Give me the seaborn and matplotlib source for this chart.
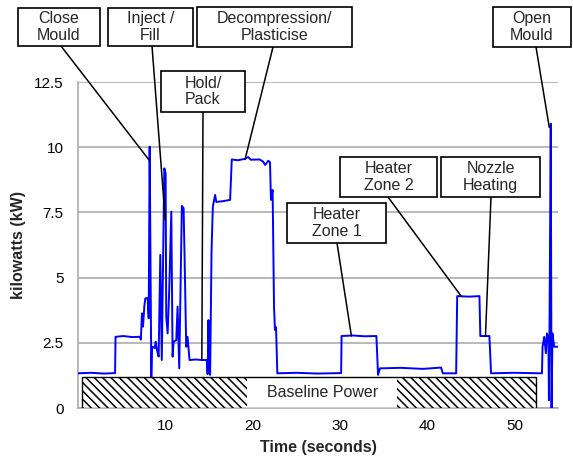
import matplotlib
matplotlib.use('Agg')
import matplotlib.pyplot as plt
from matplotlib.patches import Rectangle
import seaborn as sns
import pandas as pd

# power trace
time_s = [0.0, 1.5, 3.0, 4.25, 4.3, 5.2, 6.2, 7.1, 7.2,
          7.33, 7.45, 7.6, 7.71, 7.98, 8.1, 8.21, 8.3, 8.4, 8.48, 8.8, 8.9, 9.05,
          9.24, 9.43, 9.6, 9.89, 10.04, 10.11, 10.27, 10.45, 10.69, 10.84, 10.95,
          11.26, 11.41, 11.6, 11.9, 12.1, 12.2, 12.4, 12.55, 12.78,
          13.5, 14.2, 14.76, 14.85, 14.95, 15.05, 15.14, 15.3, 15.45, 15.71, 15.85,
          16.6, 17.43, 17.62, 18.3, 19.1, 19.5, 19.8, 20.8, 21.2, 21.45, 21.8, 22.0,
          22.11, 22.3, 22.46, 22.57, 22.69, 22.84, 25.0, 27.5, 30.15,
          30.2, 31.5, 32.8, 34.19, 34.38, 34.6, 37.0, 39.5, 41.6, 41.8, 43.33,
          43.45, 44.8, 46.0, 46.1, 47.14, 47.33, 50.0, 53.16,
          53.23, 53.42, 53.61, 53.73, 53.9, 53.96, 54.02, 54.17, 54.26, 54.37, 54.56, 55.0]
power_kw = [1.33, 1.35, 1.32, 1.34, 2.73, 2.76, 2.72, 2.73, 2.62,
            3.63, 3.12, 3.9, 4.2, 4.22, 3.44, 10.02, 6.0, 1.2, 2.35, 2.3, 2.54, 2.22,
            1.97, 5.87, 1.84, 9.19, 9.0, 3.5, 2.86, 4.5, 7.53, 1.97, 2.54,
            2.6, 3.89, 1.52, 7.75, 7.66, 6.0, 2.35, 2.73, 1.84,
            1.86, 1.84, 1.84, 1.3, 3.37, 1.5, 1.27, 6.0, 7.72, 8.17, 7.9,
            7.93, 7.98, 9.53, 9.5, 9.55, 9.62, 9.52, 9.53, 9.45, 9.32, 9.48, 9.42,
            7.98, 8.36, 3.89, 2.99, 3.1, 1.33, 1.35, 1.32, 1.34,
            2.76, 2.78, 2.75, 2.76, 1.27, 1.52, 1.54, 1.5, 1.55, 1.33, 1.33,
            4.29, 4.27, 4.29, 2.76, 2.76, 1.33, 1.35, 1.33,
            2.35, 2.73, 2.1, 2.86, 2.7, 0.3, 2.7, 10.9, 0.0, 2.86, 2.35, 2.35]

y_ticks = [0, 2.5, 5, 7.5, 10, 12.5]
y_tick_labels = ['0', '2.5', '5', '7.5', '10', '12.5']
x_ticks = [0, 10, 20, 30, 40, 50]
x_tick_labels = ['', '10', '20', '30', '40', '50']

# baseline power band
baseline_kw = 1.19
baseline_span = (0.5, 52.5)
baseline_gap = (19.4, 36.6)

# phase call-outs: label, point on the trace
phase_labels = ['Close\nMould', 'Inject /\nFill', 'Hold/\nPack', 'Decompression/\nPlasticise',
                'Heater\nZone 1', 'Heater\nZone 2', 'Nozzle\nHeating', 'Open\nMould']
phase_time = [8.21, 10.0, 14.19, 19.14, 31.33, 43.9, 46.69, 54.0]
phase_kw = [9.48, 7.21, 1.87, 9.53, 2.76, 4.29, 2.76, 10.76]
# box left, top, right, bottom (image pixels) and leader start x
phase_boxes = [(18, 8, 100, 46), (108, 8, 193, 46), (161, 71, 245, 112), (197, 7, 352, 47),
               (287, 203, 386, 243), (340, 157, 437, 197), (441, 157, 540, 197), (493, 7, 571, 47)]
phase_leader_x = [61, 152, 203, 273, 337, 388, 491, 536]

W, H = 573, 462
GREY = '#a6a6a6'

sns.set_style('white')
plt.rcParams['font.family'] = ['Liberation Sans', 'DejaVu Sans']
plt.rcParams['hatch.linewidth'] = 1.1

df = pd.DataFrame({'t': time_s, 'kw': power_kw})

fig = plt.figure(figsize=(W / 100, H / 100), dpi=100)
ax = fig.add_axes([78 / W, 54 / H, 480 / W, 326 / H])

sns.lineplot(data=df, x='t', y='kw', ax=ax, color='#0000ff', lw=1.4,
             estimator=None, sort=False, zorder=3)

ax.set_xlim(0, 55)
ax.set_ylim(0, 12.5)
ax.set_xticks(x_ticks)
ax.set_xticklabels(x_tick_labels)
ax.set_yticks(y_ticks)
ax.set_yticklabels(y_tick_labels)
ax.yaxis.grid(True, color=GREY, lw=1.1)
ax.set_axisbelow(True)
for side in ['top', 'right']:
    ax.spines[side].set_visible(False)
for side in ['left', 'bottom']:
    ax.spines[side].set_color(GREY)
    ax.spines[side].set_linewidth(1.1)
ax.tick_params(axis='both', labelsize=11, colors=GREY, labelcolor='black',
               length=4, width=1.1, direction='out')
ax.tick_params(axis='y', pad=6.5)
ax.tick_params(axis='x', pad=4)

ax.set_xlabel('Time (seconds)', fontsize=11.5, fontweight='bold')
ax.set_ylabel('kilowatts (kW)', fontsize=11.5, fontweight='bold')
ax.xaxis.set_label_coords(0.5, -0.098)
ax.yaxis.set_label_coords(-0.108, 0.5)

# baseline band: hatched ends, plain middle with label
x0, x1 = baseline_span
g0, g1 = baseline_gap
ax.add_patch(Rectangle((x0, 0), g0 - x0, baseline_kw, facecolor='white',
                       edgecolor='black', hatch='\\\\\\\\', lw=0, zorder=4))
ax.add_patch(Rectangle((g1, 0), x1 - g1, baseline_kw, facecolor='white',
                       edgecolor='black', hatch='\\\\\\\\', lw=0, zorder=4))
ax.add_patch(Rectangle((g0, 0), g1 - g0, baseline_kw, facecolor='white',
                       edgecolor='none', zorder=4))
ax.add_patch(Rectangle((x0, 0), x1 - x0, baseline_kw, fill=False,
                       edgecolor='black', lw=1.0, zorder=5))
ax.text((g0 + g1) / 2, baseline_kw / 2, 'Baseline Power', ha='center', va='center',
        fontsize=11.5, zorder=6)

for label, t, kw, box, lx in zip(phase_labels, phase_time, phase_kw, phase_boxes, phase_leader_x):
    l, tp, r, b = box
    fig.add_artist(Rectangle((l / W, 1 - b / H), (r - l) / W, (b - tp) / H,
                             transform=fig.transFigure, facecolor='white',
                             edgecolor='black', lw=1.2, zorder=5))
    fig.text((l + r) / 2 / W, 1 - (tp + b) / 2 / H, label, ha='center', va='center',
             fontsize=11.5, linespacing=1.1, zorder=6)
    ann = ax.annotate('', xy=(t, kw), xycoords='data', xytext=(lx / W, 1 - b / H),
                      textcoords='figure fraction', annotation_clip=False,
                      arrowprops=dict(arrowstyle='-', color='black', lw=1.1,
                                      shrinkA=0, shrinkB=0))
    ann.arrow_patch.set_clip_on(False)

fig.savefig('out.png', dpi=100)
plt.close(fig)
